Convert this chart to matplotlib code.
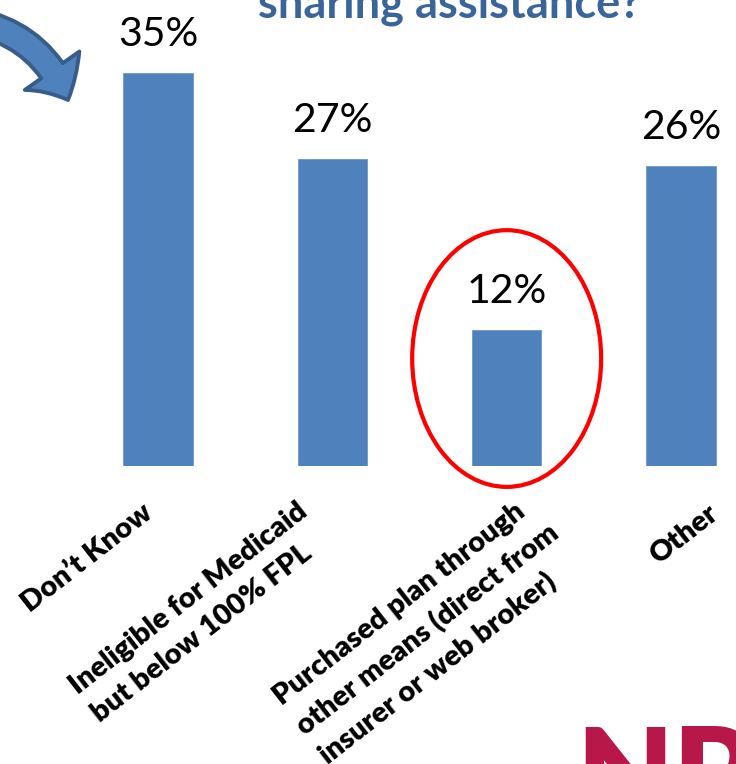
import matplotlib
matplotlib.use("Agg")
import matplotlib.pyplot as plt
from matplotlib.patches import Ellipse, FancyArrowPatch, ArrowStyle
import numpy as np

# ---- data ----
categories = [
    "Don\u2019t Know",
    "Ineligible for Medicaid\nbut below 100% FPL",
    "Purchased plan through\nother means (direct from\ninsurer or web broker)",
    "Other",
]
values = [34.6, 27.0, 12.0, 26.4]
value_labels = ["35%", "27%", "12%", "26%"]
title_text = "sharing assistance?"
logo_text = "NP"
highlight_index = 2

# ---- styles / layout ----
W, H = 736, 764
PX = 72 / 100  # points per pixel at dpi 100
bar_color = "#4F81BD"
font = ["Lato", "DejaVu Sans"]
label_offsets_px = [(-17, 33), (-36, 32), (18, 24), (26, 34)]

fig = plt.figure(figsize=(W / 100, H / 100), dpi=100)
fig.patch.set_facecolor("white")
ax = fig.add_axes([0, 1 - 466 / H, 1, 466 / H])
ax.axis("off")

x = np.arange(len(categories))
ax.bar(x, values, width=0.396, color=bar_color, edgecolor="#6F97CB", linewidth=0.6)
ax.set_xlim(-158 / 174.33, 3 + 55 / 174.33)
ax.set_ylim(0, 466 / 11.36)

for i, (v, lbl) in enumerate(zip(values, value_labels)):
    ax.annotate(lbl, (x[i], v), xytext=(0, 27 * PX), textcoords="offset points",
                ha="center", va="baseline", fontsize=29.5, family=font,
                color="black", annotation_clip=False)

for i, cat in enumerate(categories):
    dx, dy = label_offsets_px[i]
    ax.annotate(cat, (x[i], 0), xytext=(dx * PX, -dy * PX), textcoords="offset points",
                rotation=38, rotation_mode="anchor", ha="right", va="top",
                multialignment="left", fontsize=21, fontweight="heavy", family=font,
                linespacing=1.45, color="black", annotation_clip=False)

# highlight ellipse
ell = Ellipse((x[highlight_index], 9.46), 1.084, 22.6, fill=False,
              edgecolor="#FF0000", linewidth=3, clip_on=False)
ax.add_patch(ell)

# title (cut off at the top)
fig.text(449 / W, 1 - 18 / H, title_text, ha="center", va="baseline", fontsize=32.5,
         fontweight="bold", color="#3A659B", family=font)

# curved arrow at top-left
style = ArrowStyle.Simple(head_length=24, head_width=48, tail_width=19)
arrow = FancyArrowPatch(posA=(-0.40, 7.44), posB=(0.68, 6.64),
                        transform=fig.dpi_scale_trans, arrowstyle=style,
                        connectionstyle="arc3,rad=-0.3", mutation_scale=1,
                        shrinkA=0, shrinkB=0, facecolor=bar_color,
                        edgecolor="#385D8A", linewidth=2.8)
fig.patches.append(arrow)

# logo fragment at bottom-right
fig.text(576 / W, 1 - 724 / H, logo_text, ha="left", va="top", fontsize=90,
         fontweight="heavy", color="#B8174A", family=font)

fig.savefig("out.png", dpi=100)
